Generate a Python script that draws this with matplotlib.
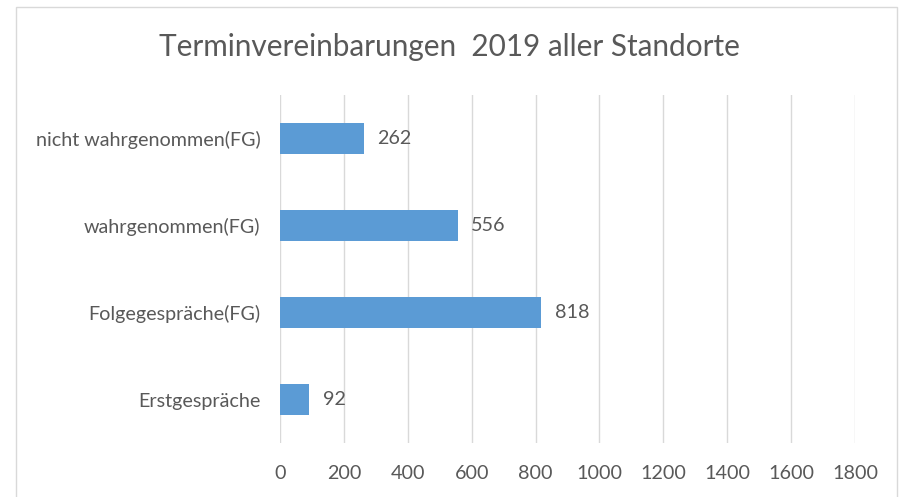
import matplotlib.pyplot as plt
from matplotlib.patches import Rectangle

# Daten
kategorien = ["Erstgespräche", "Folgegespräche(FG)", "wahrgenommen(FG)", "nicht wahrgenommen(FG)"]
werte = [92, 818, 556, 262]
x_ticks = [0, 200, 400, 600, 800, 1000, 1200, 1400, 1600, 1800]

plt.rcParams["font.family"] = ["Lato", "DejaVu Sans"]
text_grau = "#595959"
gitter = "#d9d9d9"

fig = plt.figure(figsize=(8.99, 4.97), dpi=100)
ax = fig.add_axes([280 / 899, 1 - 443 / 497, 575 / 899, 348 / 497])

ax.barh(kategorien, werte, height=0.345, color="#5b9bd5", zorder=3)
for i, v in enumerate(werte):
    ax.text(v + 42, i, str(v), va="center", ha="left", fontsize=14.2, color=text_grau)

ax.set_xlim(0, 1800)
ax.set_ylim(-0.5, len(kategorien) - 0.5)
ax.set_xticks(x_ticks)
ax.grid(axis="x", color=gitter, linewidth=1, zorder=0)
for s in ax.spines.values():
    s.set_visible(False)
ax.tick_params(length=0, labelsize=14.2, labelcolor=text_grau)
ax.tick_params(axis="x", pad=16)
ax.tick_params(axis="y", pad=14)

fig.text(0.5, 1 - 47 / 497, "Terminvereinbarungen  2019 aller Standorte",
         ha="center", va="center", fontsize=21.4, color=text_grau)

# Rahmen um das Diagramm
fig.patches.append(Rectangle((16 / 899, -0.05), 881 / 899, 1 - 7 / 497 + 0.05,
                             transform=fig.transFigure, fill=False,
                             edgecolor=gitter, linewidth=1))

fig.savefig("out.png", dpi=100)
